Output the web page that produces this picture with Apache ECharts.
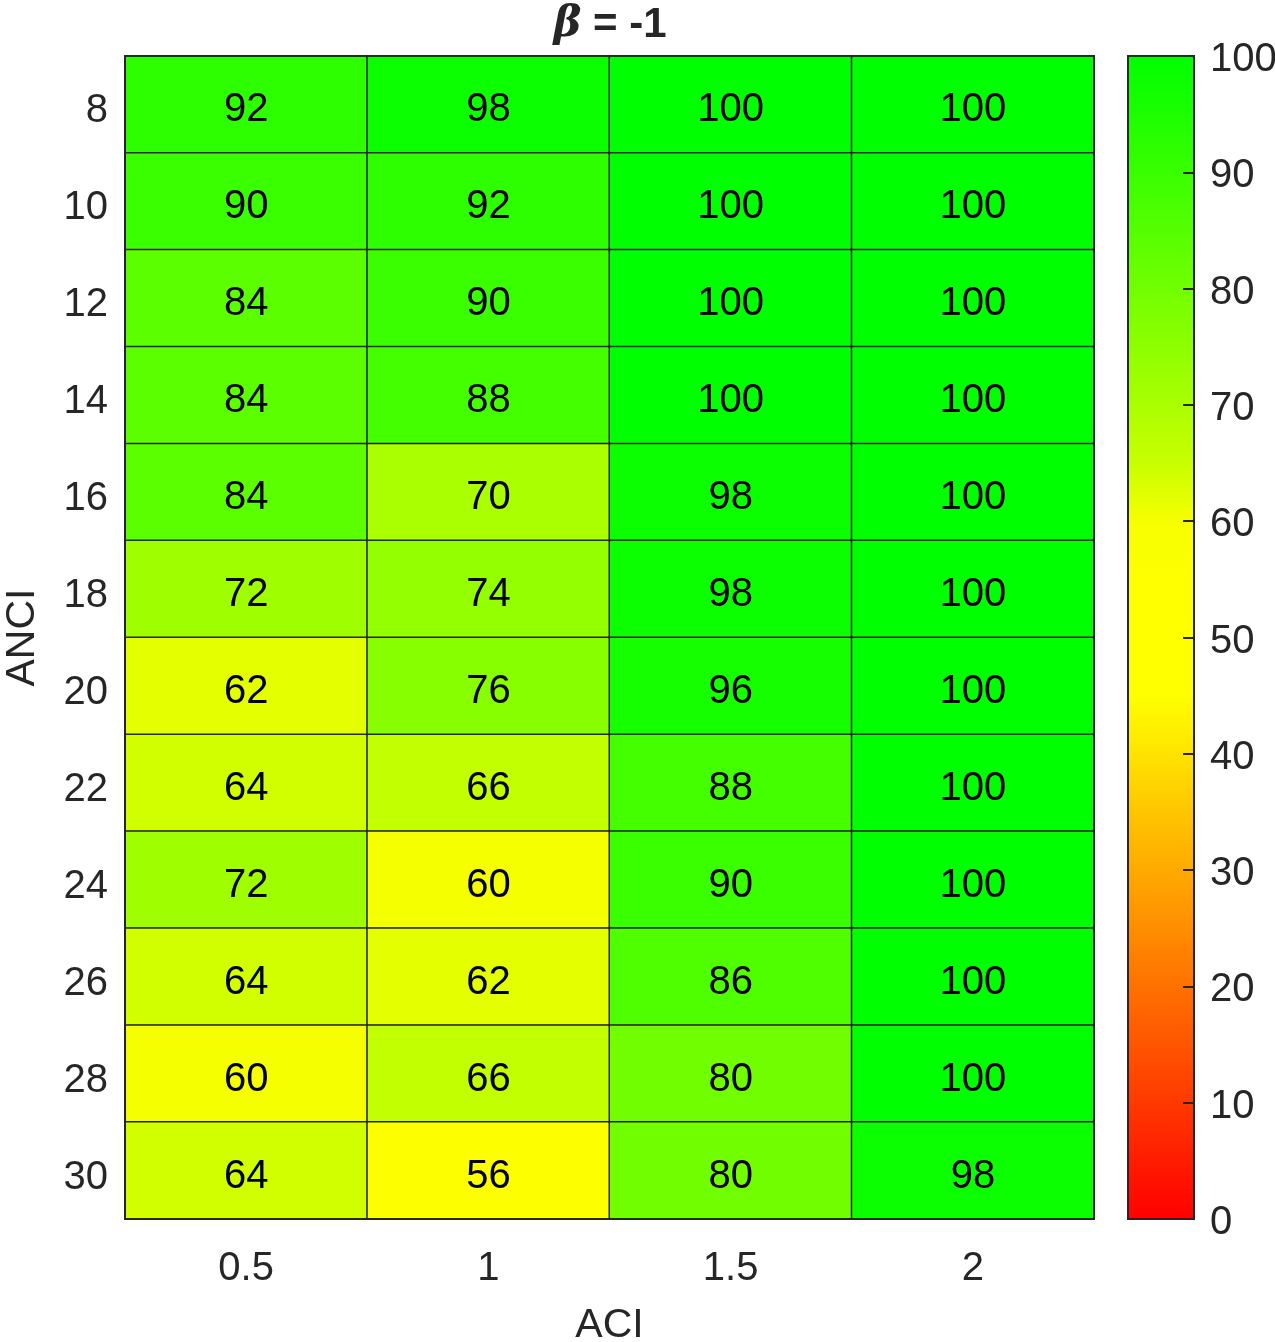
<!DOCTYPE html>
<html>
<head>
<meta charset="utf-8">
<script src="https://cdn.jsdelivr.net/npm/echarts@6/dist/echarts.min.js"></script>
<style>
  html, body { margin: 0; padding: 0; background: #fff; }
  #chart { width: 1275px; height: 1342px; }
</style>
</head>
<body>
<div id="chart"></div>
<script>
// ACI on x, ANCI on y (8 at the top)
var aciLabels = ['0.5', '1', '1.5', '2'];
var anciLabels = ['8', '10', '12', '14', '16', '18', '20', '22', '24', '26', '28', '30'];

// one column per ACI value, top to bottom
var colAci05 = [92, 90, 84, 84, 84, 72, 62, 64, 72, 64, 60, 64];
var colAci1  = [98, 92, 90, 88, 70, 74, 76, 66, 60, 62, 66, 56];
var colAci15 = [100, 100, 100, 100, 98, 98, 96, 88, 90, 86, 80, 80];
var colAci2  = [100, 100, 100, 100, 100, 100, 100, 100, 100, 100, 100, 98];
var columns = [colAci05, colAci1, colAci15, colAci2];

var cbMin = 0, cbMax = 100, cbStep = 10;

// red -> yellow -> green map, stops every 5
var mapColors = ['#ff0000', '#ff1c00', '#ff3900', '#ff5500', '#ff7100', '#ff8e00', '#ffaa00',
  '#ffc600', '#ffe300', '#ffff00', '#ffff00', '#ffff00', '#f6ff00', '#c8ff00', '#aaff00',
  '#8eff00', '#71ff00', '#55ff00', '#39ff00', '#1cff00', '#00ff00'];

var heatData = [];
for (var i = 0; i < columns.length; i++) {
  for (var j = 0; j < anciLabels.length; j++) {
    heatData.push([i, j, columns[i][j]]);
  }
}

var ink = '#262626';
var font = '"Liberation Sans", Arial, Helvetica, sans-serif';

var chart = echarts.init(document.getElementById('chart'));
chart.setOption({
  animation: false,
  backgroundColor: '#fff',
  textStyle: { fontFamily: font, color: ink },
  title: {
    text: '{b|β} = -1',
    left: 605,
    textAlign: 'center',
    top: -1,
    textStyle: {
      fontFamily: font, fontSize: 42, fontWeight: 'bold', color: ink,
      rich: { b: { fontFamily: '"DejaVu Serif", serif', fontSize: 42, fontWeight: 'bold', fontStyle: 'italic', color: ink } }
    }
  },
  grid: [
    { left: 125, top: 56, width: 969, height: 1163, show: true, borderColor: ink, borderWidth: 2, z: 5,
      outerBoundsMode: 'none', containLabel: false },
    { left: 1128, top: 56, width: 66, height: 1163, show: true, borderColor: ink, borderWidth: 2,
      backgroundColor: 'transparent', z: 10, zlevel: 1, outerBoundsMode: 'none', containLabel: false }
  ],
  xAxis: [
    {
      type: 'category', gridIndex: 0, data: aciLabels,
      name: 'ACI', nameLocation: 'middle', nameGap: 86,
      nameTextStyle: { fontSize: 41, color: ink, fontFamily: font },
      axisLine: { show: false }, axisTick: { show: false }, splitLine: { show: false },
      axisLabel: { fontSize: 40, color: ink, margin: 30, fontFamily: font }
    },
    {
      type: 'value', gridIndex: 1, min: 0, max: 1, show: false
    }
  ],
  yAxis: [
    {
      type: 'category', gridIndex: 0, data: anciLabels, inverse: true,
      name: 'ANCI', nameLocation: 'middle', nameGap: 82, nameRotate: 90,
      nameTextStyle: { fontSize: 41, color: ink, fontFamily: font },
      axisLine: { show: false }, axisTick: { show: false }, splitLine: { show: false },
      axisLabel: {
        margin: 17,
        formatter: function (v) { return '{t|' + v + '}'; },
        rich: { t: { fontSize: 40, color: ink, fontFamily: font, padding: [14, 0, 0, 0] } }
      }
    },
    {
      type: 'value', gridIndex: 1, min: cbMin, max: cbMax, interval: cbStep,
      position: 'right', z: 50, zlevel: 1,
      axisLine: { show: true, onZero: false, lineStyle: { color: ink, width: 2 } },
      axisTick: { show: true, inside: true, length: 11, lineStyle: { color: ink, width: 2 } },
      splitLine: { show: false },
      axisLabel: {
        margin: 16,
        formatter: function (v) { return '{t|' + v + '}'; },
        rich: { t: { fontSize: 40, color: ink, fontFamily: font, padding: [8, 0, 0, 0] } }
      }
    }
  ],
  visualMap: {
    type: 'continuous',
    min: cbMin, max: cbMax,
    seriesIndex: 0,
    calculable: false,
    realtime: false,
    orient: 'vertical',
    left: 1128, top: 56,
    padding: 0,
    itemWidth: 66, itemHeight: 1163,
    text: null,
    showLabel: false,
    hoverLink: false,
    inRange: { color: mapColors },
    z: 1
  },
  series: [
    {
      type: 'heatmap',
      xAxisIndex: 0, yAxisIndex: 0,
      data: heatData,
      label: { show: true, fontSize: 40, color: '#000', fontFamily: font, offset: [0, 6],
        formatter: function (p) { return p.value[2]; } },
      itemStyle: { borderColor: ink, borderWidth: 1.5 },
      emphasis: { disabled: true }
    }
  ]
});
</script>
</body>
</html>
